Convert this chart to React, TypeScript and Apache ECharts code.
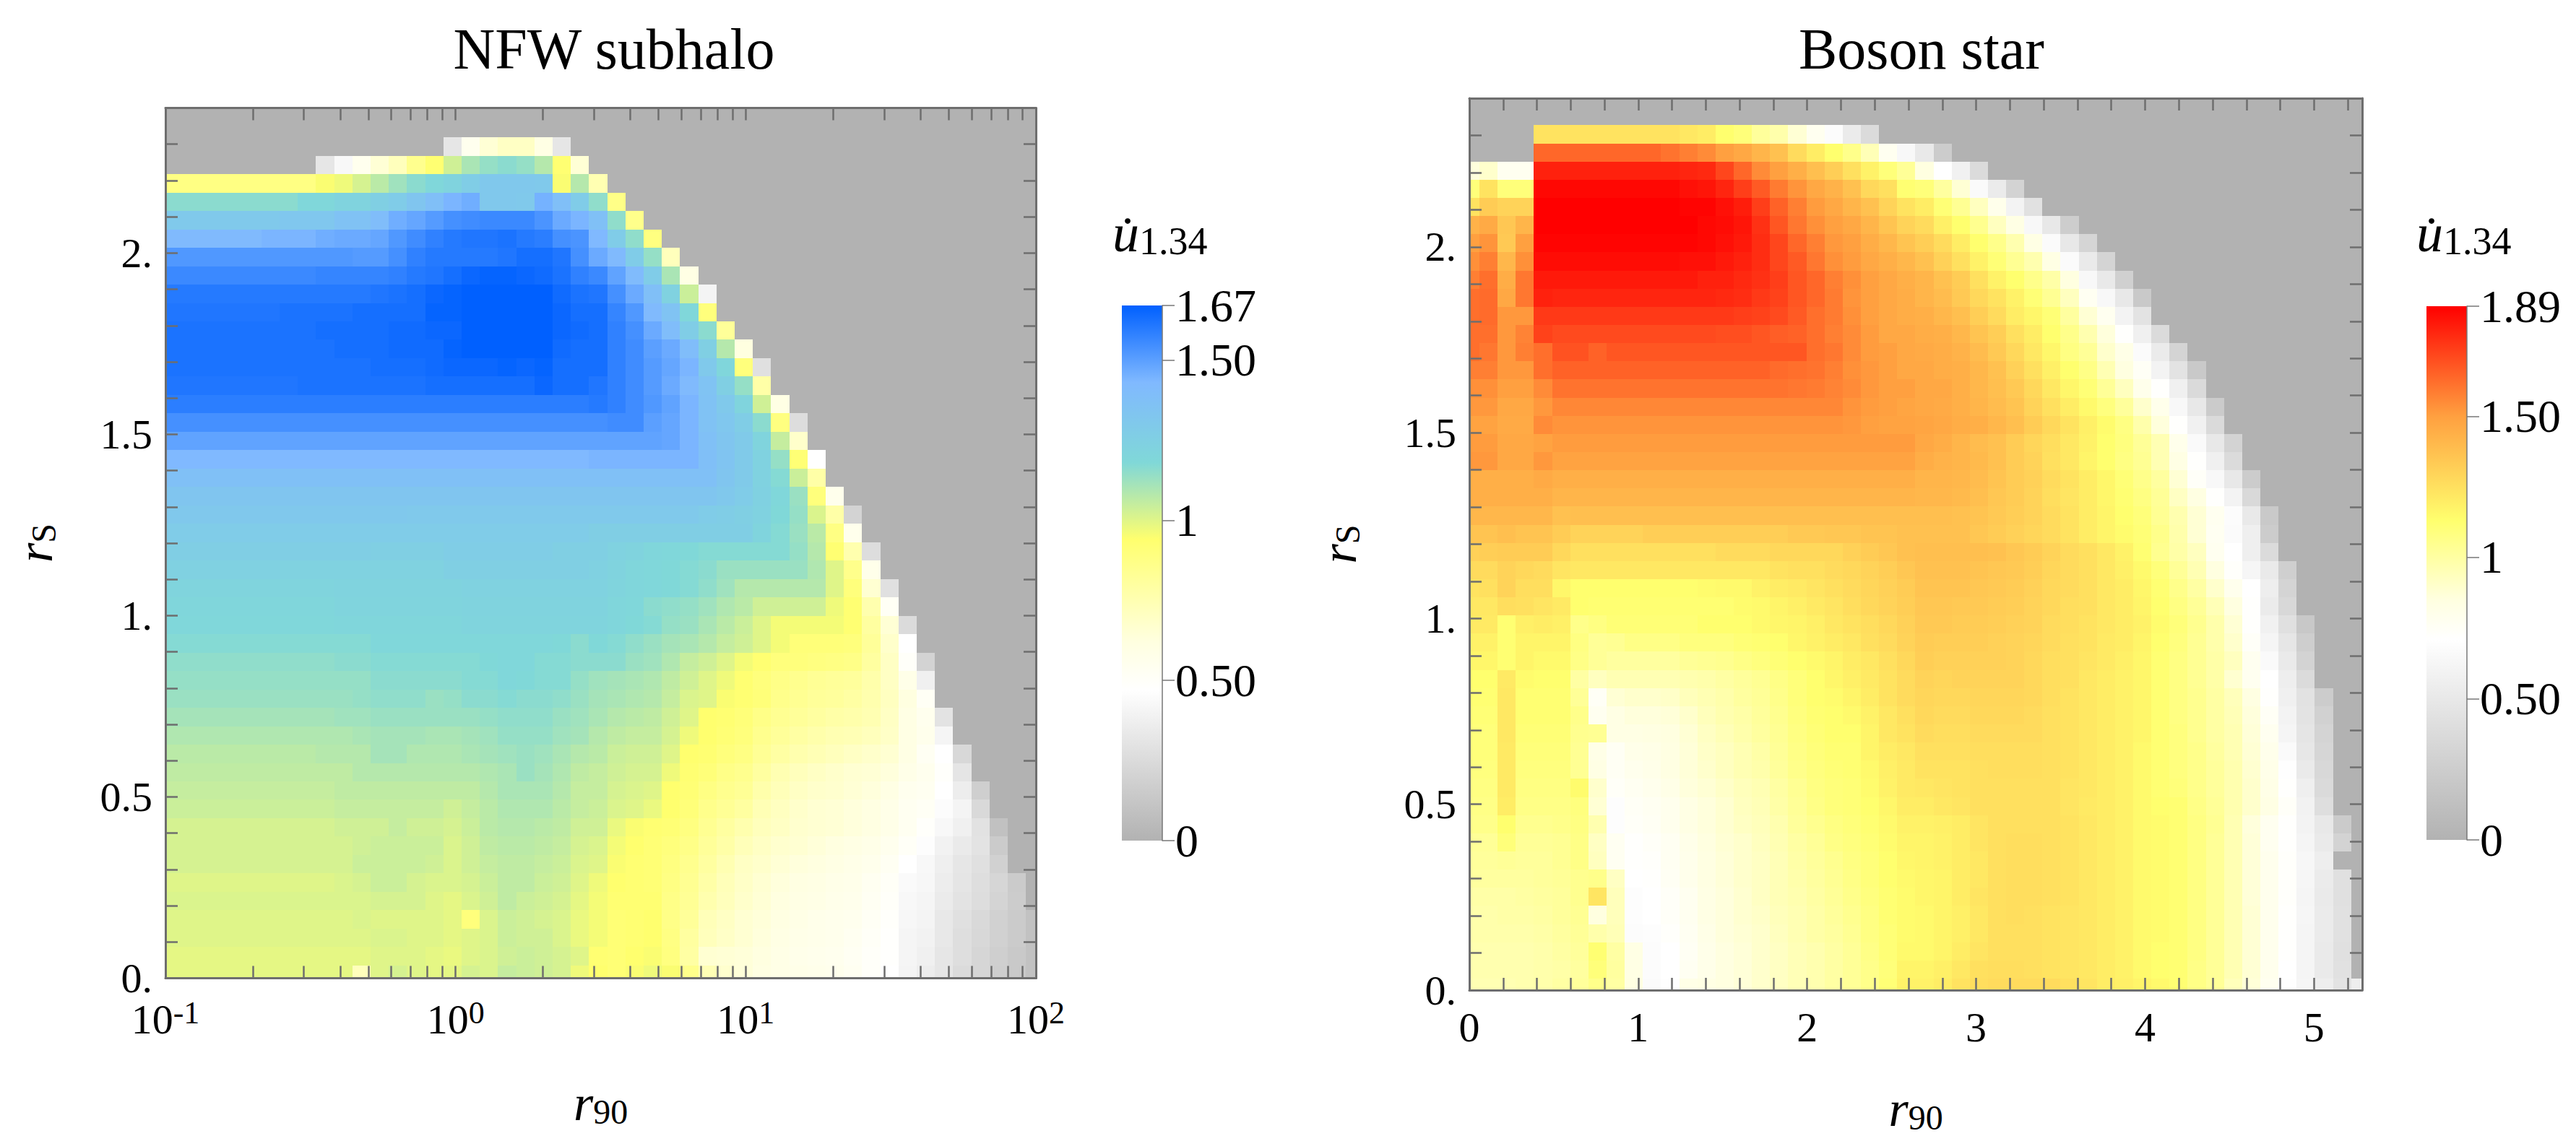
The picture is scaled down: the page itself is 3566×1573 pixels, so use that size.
import React, { useEffect, useRef } from "react";
import * as echarts from "echarts";

const FONT = "'Liberation Serif', serif";
const titles = ["NFW subhalo", "Boson star"];
const nfwXLabels = [0.1, 1, 10, 100];
const nfwXTicks = [0.2,0.3,0.4,0.5,0.6,0.7,0.8,0.9,1,2,3,4,5,6,7,8,9,10,20,30,40,50,60,70,80,90];
const bosonXLabels = [0, 1, 2, 3, 4, 5];
const bosonXTicks = [0.2,0.4,0.6,0.8,1,1.2,1.4,1.6,1.8,2,2.2,2.4,2.6,2.8,3,3.2,3.4,3.6,3.8,4,4.2,4.4,4.6,4.8,5,5.2];
const rsLabels = [0, 0.5, 1, 1.5, 2];
const rsTicks = [0.1,0.2,0.3,0.4,0.5,0.6,0.7,0.8,0.9,1,1.1,1.2,1.3,1.4,1.5,1.6,1.7,1.8,1.9,2,2.1,2.2,2.3];
const nfwBarTicks = [0, 0.5, 1, 1.5, 1.67];
const bosonBarTicks = [0, 0.5, 1, 1.5, 1.89];

const nfwStops: [number, string][] = [[0,"#b2b2b2"],[0.47,"#ffffff"],[0.62,"#ffffe0"],[0.94,"#ffff6e"],[1.18,"#80d8d8"],[1.43,"#80b9ff"],[1.67,"#0060ff"]];
const bosonStops: [number, string][] = [[0,"#b2b2b2"],[0.71,"#ffffff"],[0.85,"#ffffe0"],[1.13,"#ffff6e"],[1.5,"#ffa040"],[1.89,"#ff0000"]];

// Values in hundredths of u, top row first, left column first. 0 = no data.
const nfwValues = [
[0,0,0,0,0,0,0,0,0,0,0,0,0,0,0,32,55,65,70,70,60,32],
[0,0,0,0,0,0,0,0,32,43,55,65,72,85,93,103,110,114,116,114,108,93,65],
[88,88,88,88,88,88,88,88,95,97,102,107,112,116,119,122,127,131,131,131,130,95,108,75],
[116,116,116,116,116,116,116,119,119,122,122,125,128,133,138,144,146,131,131,130,145,138,128,115,87],
[130,130,130,130,130,130,132,132,132,136,136,140,146,148,151,154,155,156,156,156,153,147,144,137,115,86],
[142,142,142,142,142,144,144,144,146,147,147,148,152,155,158,160,161,161,162,160,159,154,153,143,128,115,89],
[152,152,152,152,152,152,152,152,152,152,151,151,154,158,160,160,160,160,161,163,163,161,154,147,142,128,114,72],
[156,156,156,156,156,156,156,156,157,157,157,157,158,160,161,163,165,166,166,165,164,162,158,156,149,141,128,110,60],
[160,160,160,160,160,160,160,160,160,160,160,161,162,163,165,166,167,167,167,167,167,164,162,161,154,147,138,123,104,40],
[161,161,161,161,161,161,162,162,162,162,163,163,163,163,166,166,167,167,167,167,167,165,163,163,157,152,142,135,119,90],
[162,162,162,162,162,162,162,162,163,163,163,163,164,164,165,165,167,167,167,167,167,165,164,163,158,154,147,140,127,116,82],
[162,162,162,162,162,162,162,162,162,163,163,163,164,164,164,166,167,167,167,167,167,164,163,163,158,155,150,147,140,125,108,62],
[162,162,162,162,162,162,162,162,162,162,162,163,163,163,164,165,165,165,166,165,166,163,163,163,158,155,151,148,144,130,120,90,28],
[161,161,161,161,161,161,161,162,162,162,162,162,162,162,163,163,163,163,163,163,165,163,163,161,158,155,151,147,142,135,125,114,78],
[159,159,159,159,159,159,159,159,159,159,159,159,159,159,159,159,159,159,159,159,159,159,159,160,158,155,152,149,144,136,130,121,103,60],
[154,154,154,154,154,154,154,154,154,154,154,154,154,154,154,154,154,154,154,154,154,154,154,154,155,155,150,148,144,136,132,127,116,89,26],
[149,149,149,149,149,149,149,149,149,149,149,149,149,149,149,149,149,149,149,149,149,149,149,149,149,149,149,148,144,137,133,129,121,105,68],
[143,143,143,143,143,143,143,143,143,143,143,143,143,143,143,143,143,143,143,143,143,143,143,144,144,144,144,144,144,138,134,129,123,114,92,47],
[137,137,137,137,137,137,137,137,137,137,137,137,137,137,137,137,137,137,137,137,137,137,137,137,137,137,137,137,137,137,133,129,123,117,104,78],
[133,133,133,133,133,133,133,133,133,133,133,133,133,133,133,133,133,133,133,133,133,133,133,133,133,133,133,133,133,133,131,128,124,119,113,90,56],
[131,131,131,131,131,131,131,131,131,131,131,131,131,130,130,130,130,130,130,130,130,130,130,130,130,130,130,130,130,128,127,125,123,118,114,101,78,20],
[128,128,128,128,128,128,128,128,128,128,128,128,128,128,128,128,128,128,128,128,128,128,128,126,126,126,126,126,126,126,126,126,121,117,113,107,88,56],
[126,126,126,126,126,126,126,126,126,126,126,125,125,125,125,127,127,127,127,127,127,125,125,125,123,122,120,119,118,117,117,117,117,117,114,108,93,76,26],
[124,124,124,124,124,124,123,123,123,123,123,123,123,123,123,125,125,125,125,125,125,125,125,124,122,120,119,118,117,116,113,113,113,113,113,109,100,86,57],
[121,121,121,121,121,121,121,121,121,122,122,122,122,122,122,122,123,123,123,123,123,123,123,123,121,120,119,118,117,115,112,108,108,108,108,108,100,90,66,28],
[120,120,120,120,120,120,120,120,120,121,121,121,121,121,121,121,122,122,122,122,122,122,122,122,120,119,116,115,114,112,109,107,103,103,103,103,97,93,76,52],
[119,119,119,119,119,119,119,119,119,120,120,120,120,120,120,120,121,121,121,121,121,121,121,121,120,118,117,114,113,110,107,104,100,96,96,96,96,93,80,65,25],
[117,117,117,117,117,117,117,117,117,117,117,119,119,119,119,119,119,119,119,119,119,118,116,118,117,115,113,111,110,108,105,103,100,96,91,91,91,90,82,68,47],
[115,115,115,115,115,115,115,115,115,116,116,117,117,117,117,117,117,118,119,119,117,117,116,116,116,113,112,109,105,103,100,96,93,90,90,89,88,87,80,70,50,20],
[114,114,114,114,114,114,114,114,114,114,114,116,116,116,116,116,117,117,119,118,117,117,114,112,111,110,109,106,103,100,97,93,90,87,85,83,82,81,77,70,58,38],
[113,113,113,113,113,113,113,113,113,113,114,115,115,115,113,114,116,116,117,116,116,115,113,111,110,109,108,105,101,100,95,93,91,86,84,82,81,79,76,71,62,52],
[111,111,111,111,111,111,111,111,111,112,112,113,113,113,113,113,113,114,115,115,115,113,112,110,108,107,106,103,100,94,93,91,87,84,82,80,78,77,75,70,60,55,30],
[109,109,109,109,109,109,109,109,109,109,110,111,111,111,110,110,111,112,114,114,114,112,111,108,106,105,105,102,97,94,92,90,85,82,79,77,75,74,72,69,60,56,41],
[107,107,107,107,107,107,107,107,108,108,108,111,111,109,109,109,110,111,112,113,112,110,108,107,104,103,103,100,94,93,90,88,83,79,76,74,72,70,68,66,60,53,47,23],
[106,106,106,106,106,106,106,106,106,106,108,108,108,108,108,108,108,109,110,113,111,109,106,105,103,102,102,97,93,91,87,85,80,75,72,70,68,66,65,63,58,55,49,31],
[105,105,105,105,105,105,105,105,105,106,106,106,106,106,106,106,106,108,110,110,110,108,105,105,102,101,100,94,92,88,85,83,77,73,70,68,67,65,63,60,55,54,47,36,18],
[104,104,104,104,104,104,104,104,104,105,105,105,105,105,105,103,105,107,109,109,109,107,105,104,101,100,98,94,91,86,83,80,74,71,68,66,65,63,61,58,54,52,45,40,24],
[102,102,102,102,102,102,102,102,102,103,103,103,105,103,103,102,104,107,108,108,107,106,103,103,98,95,93,92,89,84,80,76,72,70,67,66,65,63,61,58,54,49,43,38,29,9],
[102,102,102,102,102,102,102,102,102,102,103,104,104,104,104,101,103,106,107,107,106,105,102,101,96,94,92,90,87,82,78,73,70,67,66,64,62,60,58,55,51,46,39,34,30,15],
[102,102,102,102,102,102,102,102,102,102,104,104,104,104,103,101,103,105,106,106,105,104,101,100,95,93,92,89,85,80,75,70,68,65,63,62,60,58,56,53,47,43,37,32,28,19],
[100,100,100,100,100,100,100,100,100,101,102,104,104,102,101,101,102,104,106,106,104,103,100,97,94,93,92,88,84,78,73,69,66,63,61,60,58,57,54,51,44,42,36,31,27,22,15],
[101,101,101,101,101,101,101,101,101,101,101,102,102,102,100,99,101,103,106,104,103,102,99,96,93,93,93,87,83,76,72,68,65,62,60,59,57,56,53,50,43,41,35,30,26,21,16],
[100,100,100,100,100,100,100,100,100,100,101,100,100,100,100,99,90,101,104,103,102,101,98,96,92,93,94,87,82,73,70,66,64,61,59,57,56,55,52,49,42,40,33,28,24,19,15,10],
[100,100,100,100,100,100,100,100,100,100,100,101,101,100,100,99,100,101,104,103,103,101,98,96,92,93,94,88,80,72,69,66,63,60,58,57,56,54,51,48,41,39,33,27,23,19,15,10],
[99,99,99,99,99,99,99,99,99,99,99,100,100,100,99,98,100,101,103,104,103,102,100,93,92,94,95,89,79,66,65,64,62,59,57,56,55,53,50,48,41,38,32,27,22,18,14,10],
[99,99,99,99,99,99,99,99,99,99,72,100,102,100,99,99,102,101,105,104,103,102,97,94,92,95,97,95,86,74,67,64,61,59,58,57,56,54,50,47,40,36,32,25,22,17,14,10],
];

const bosonValues = [
[0,0,0,0,124,124,124,124,124,124,124,124,122,120,113,110,102,98,88,78,68,53,38],
[0,0,0,0,164,164,164,164,164,164,164,161,158,155,150,147,142,137,127,120,113,106,95,78,65,51,24],
[86,90,78,78,181,181,181,181,181,181,181,181,180,179,172,164,155,150,144,138,132,125,118,110,103,85,71,58,38],
[110,124,110,110,187,187,187,187,187,187,187,187,185,184,180,174,167,159,153,147,143,137,128,125,112,110,101,88,66,53,30],
[124,133,130,130,189,189,189,189,189,189,189,189,188,188,185,182,174,165,158,151,147,142,137,130,124,120,111,104,93,80,60,43],
[143,146,135,142,189,189,189,189,189,189,189,189,189,187,186,184,177,168,160,154,150,147,142,136,130,127,119,113,105,93,83,65,50,25],
[150,153,134,150,188,188,188,188,188,188,188,188,188,187,185,183,178,172,164,158,152,150,145,141,136,132,127,120,113,106,97,83,67,50,32],
[154,158,141,154,186,186,186,186,186,186,186,186,185,185,183,181,178,172,167,160,154,151,147,144,141,137,131,125,118,111,104,97,83,67,52,31],
[158,162,145,160,183,183,183,183,183,183,183,183,183,181,181,179,177,174,168,164,158,154,150,147,144,142,137,133,125,118,113,106,99,85,65,51,28],
[162,163,147,160,181,180,180,180,180,180,180,180,180,180,179,178,175,173,168,164,159,153,150,147,145,142,139,134,128,124,118,111,104,93,77,65,50,21],
[162,163,152,152,175,175,175,175,175,175,175,175,175,175,175,174,173,171,167,162,159,154,150,147,145,144,141,138,132,127,120,116,111,101,88,78,60,45],
[162,162,152,157,173,171,171,171,171,171,171,171,171,171,170,170,168,166,165,162,158,155,151,147,147,145,144,141,136,132,125,120,113,106,97,86,72,57,38],
[162,160,152,158,162,169,169,165,168,168,168,168,168,168,168,168,168,168,168,162,160,155,151,150,147,146,145,143,139,134,128,122,116,108,103,90,82,67,53,31],
[158,158,152,152,162,165,165,165,165,165,165,165,165,165,165,165,165,163,162,161,158,154,152,150,147,147,145,144,141,137,131,125,119,113,107,96,85,75,60,45,21],
[154,154,150,150,155,161,161,161,161,161,161,161,161,161,161,161,161,161,160,159,157,155,152,150,150,147,147,144,141,138,134,128,122,116,111,103,93,80,72,57,37],
[152,152,147,147,152,156,156,156,156,156,156,156,156,156,156,156,156,156,156,156,156,153,151,150,148,147,146,144,142,139,136,130,125,120,115,109,102,90,80,65,50,23],
[149,149,146,146,155,153,153,153,153,153,153,153,153,153,153,153,153,153,153,153,153,152,150,149,149,148,147,145,144,141,138,133,128,124,119,114,108,98,86,72,58,37],
[151,151,147,147,149,151,151,151,151,151,151,151,151,151,151,151,151,151,151,151,151,151,151,151,151,147,145,142,139,137,133,129,126,122,118,113,109,103,96,80,66,50,30],
[152,152,147,147,152,149,149,149,149,149,149,149,149,149,149,149,149,149,149,149,149,149,149,149,149,145,143,142,140,137,133,130,125,122,117,113,108,104,96,83,72,57,38],
[144,144,144,144,146,144,144,144,144,144,144,144,144,144,144,144,144,144,144,144,144,144,144,144,144,142,142,141,139,136,133,131,127,124,120,116,111,106,101,88,74,65,50,24],
[144,144,144,144,144,142,142,142,142,142,142,142,142,142,142,142,142,142,142,142,142,142,142,142,142,141,141,140,138,135,133,130,126,123,120,116,112,108,103,92,84,72,60,36],
[141,141,141,141,141,137,138,138,138,138,138,138,138,138,138,138,138,138,138,138,138,138,138,138,138,138,138,137,136,134,132,130,127,124,120,117,113,110,104,97,88,78,68,51,21],
[136,136,138,136,136,133,130,130,130,130,132,132,132,132,132,132,132,132,134,134,135,135,136,136,137,137,137,137,135,133,131,129,127,124,120,117,114,111,106,98,88,77,67,56,24],
[131,132,133,133,133,128,125,125,125,125,125,125,125,125,127,127,127,128,128,128,128,131,133,135,137,138,138,138,138,137,135,133,130,127,125,122,118,112,105,99,93,78,71,56,38],
[127,127,130,128,127,123,122,122,122,122,122,122,122,122,122,122,122,124,125,125,127,128,130,132,135,137,137,137,136,135,134,132,129,127,125,122,119,115,110,103,96,85,73,63,52,27],
[124,125,130,126,126,116,113,113,113,113,113,113,113,114,115,115,118,120,121,123,125,127,129,131,133,136,136,136,135,134,133,131,128,127,125,122,120,116,112,106,100,90,79,71,55,31],
[122,122,126,125,123,121,113,112,112,112,112,112,112,112,112,114,115,117,119,121,123,126,128,130,132,135,135,134,134,133,132,130,128,126,125,122,120,117,113,108,103,95,85,72,53,35],
[121,121,112,119,120,119,106,108,111,111,111,111,111,113,113,113,115,116,117,119,122,124,126,128,131,134,134,133,133,132,131,130,127,126,124,122,120,118,114,110,105,98,88,72,58,42,20],
[118,118,112,117,117,117,108,103,104,107,107,107,109,109,109,111,112,113,116,118,120,122,125,127,130,133,132,132,132,131,130,129,127,125,124,121,120,117,113,109,104,98,90,74,62,48,26],
[116,116,112,117,115,115,107,103,101,101,101,101,103,104,105,107,109,111,113,115,117,120,122,125,128,132,131,131,131,131,130,128,126,125,123,121,119,116,112,108,104,99,93,78,66,52,30],
[113,113,121,114,113,113,100,93,96,96,96,96,97,98,100,102,104,107,110,113,116,119,121,124,127,130,129,130,130,130,130,128,126,125,122,120,118,116,112,108,104,99,89,78,71,55,38],
[112,112,122,112,112,112,103,75,88,90,90,91,94,96,98,101,103,106,110,113,114,117,120,124,127,129,128,128,129,129,129,128,126,124,122,120,118,116,112,108,105,100,94,84,72,57,44,24],
[111,111,122,112,112,112,106,78,83,86,86,87,90,94,97,99,102,105,109,112,113,115,118,122,125,128,127,127,128,128,128,127,125,124,122,120,118,116,112,108,105,100,95,86,75,60,45,29],
[110,110,122,111,111,111,105,104,83,83,84,85,88,92,95,98,101,104,108,111,113,113,117,122,124,127,126,126,127,127,127,127,125,124,122,120,118,116,112,109,105,100,96,87,78,62,47,31],
[110,110,121,110,110,110,104,82,76,81,82,84,87,91,93,96,99,103,107,110,112,112,117,120,122,125,125,125,126,126,126,126,125,124,122,120,118,115,112,109,106,101,96,88,80,66,49,33],
[109,109,121,109,109,109,104,83,76,79,81,84,87,90,93,96,98,102,106,109,111,112,115,119,121,124,124,124,125,126,126,126,125,124,122,120,118,115,112,109,106,102,97,89,81,70,52,35],
[108,108,121,108,108,108,114,90,74,77,79,82,86,88,91,94,96,100,104,108,110,111,114,118,121,122,123,124,125,125,125,125,125,123,122,120,118,115,112,110,106,102,97,90,82,72,56,37],
[107,107,120,107,107,107,109,88,69,75,77,79,83,86,89,93,95,99,103,107,110,111,113,116,120,120,122,123,125,125,125,125,125,123,121,120,118,115,113,112,107,103,97,90,83,74,59,41],
[106,106,113,105,105,106,108,97,69,74,76,79,83,86,89,92,94,97,102,105,108,110,112,115,118,118,119,120,123,125,125,125,125,124,122,120,118,115,114,112,108,104,96,86,78,72,60,50,23],
[103,103,110,103,103,104,107,92,77,72,74,77,81,85,88,90,93,96,100,103,107,109,111,114,117,117,118,120,123,125,126,126,125,124,122,120,118,115,114,112,108,103,96,87,78,72,62,52,30],
[102,102,103,102,102,104,107,93,77,72,73,77,80,84,87,90,92,95,99,102,105,108,110,113,116,117,118,120,122,125,126,126,125,124,122,120,118,115,114,112,108,103,96,87,79,73,64,55],
[101,101,101,101,102,103,105,106,92,71,72,76,80,84,87,90,92,95,98,101,104,107,110,113,115,116,117,120,122,125,126,126,125,124,122,120,118,115,114,112,108,103,96,87,79,73,63,53,42],
[99,99,99,100,101,102,105,123,94,69,71,74,78,83,86,89,92,95,97,100,103,106,109,112,114,116,117,120,123,125,126,126,125,124,122,120,118,115,114,112,108,103,96,87,79,73,62,52,42],
[98,98,99,99,100,102,104,85,94,69,71,74,78,83,86,89,91,94,96,99,102,105,108,112,114,115,117,119,122,125,126,125,124,123,122,120,118,115,114,112,108,103,96,88,79,72,63,53,43],
[98,98,98,98,99,101,103,98,95,68,69,73,77,82,86,88,90,93,96,99,101,104,108,111,114,115,117,119,122,125,125,125,124,123,122,120,118,115,114,112,108,103,96,88,79,72,62,53,43],
[97,97,97,97,98,100,102,112,100,83,68,71,76,81,85,87,90,92,95,97,100,103,107,111,115,115,117,120,123,125,125,125,124,123,122,120,118,115,113,112,108,103,96,88,79,72,62,52,42],
[97,97,97,97,98,99,101,110,101,83,68,71,77,81,85,87,90,92,95,97,100,103,106,110,117,117,119,122,125,126,126,125,124,123,122,120,118,115,113,112,107,103,96,88,79,71,62,52,43],
[96,96,96,97,98,100,102,106,100,84,67,70,82,83,85,87,90,92,95,97,100,103,106,111,118,118,120,124,126,127,127,127,127,125,123,120,119,117,115,112,107,103,94,87,78,70,63,55,45,55],
];

const NFW_W = 1205, NFW_H = 1205, BOS_W = 1236, BOS_H = 1235;
const NFW_YMAX = 2.4, BOS_YMAX = 2.4, BOS_XMAX = 5.285;

function hex(c: string) { return [1, 3, 5].map((i) => parseInt(c.slice(i, i + 2), 16)); }
function colorAt(v: number, stops: [number, string][]) {
  for (let i = 1; i < stops.length; i++) {
    if (v <= stops[i][0]) {
      const t = (v - stops[i - 1][0]) / (stops[i][0] - stops[i - 1][0]);
      const a = hex(stops[i - 1][1]), b = hex(stops[i][1]);
      return `rgb(${a.map((x, k) => Math.round(x + (b[k] - x) * t)).join(",")})`;
    }
  }
  return stops[stops.length - 1][1];
}

function nfwColEdge(k: number) {
  if (k <= 0) return 0.1;
  if (k >= 48) return 100;
  return Math.pow(10, -1 + (32 + 25.2 * (k - 1)) / (NFW_W / 3));
}
function nfwRowEdge(k: number) { return k <= 0 ? 0 : (17.7 + 25.48 * (k - 1)) / (NFW_H / NFW_YMAX); }
function bosColEdge(k: number) {
  if (k <= 0) return 0;
  if (k >= 50) return BOS_XMAX;
  return (14 + 25.14 * (k - 1)) / (BOS_W / BOS_XMAX);
}
function bosRowEdge(k: number) { return k <= 0 ? 0 : (16 + 25.14 * (k - 1)) / (BOS_H / BOS_YMAX); }

function cells(rows: number[][], colEdge: (k: number) => number, rowEdge: (k: number) => number) {
  const out: number[][] = [];
  rows.forEach((row, r) => {
    const k = rows.length - 1 - r;
    row.forEach((v, c) => {
      if (v > 0) out.push([colEdge(c), colEdge(c + 1), rowEdge(k), rowEdge(k + 1), v / 100]);
    });
  });
  return out;
}

const renderCell = (stops: [number, string][]) => (_: any, api: any) => {
  const a = api.coord([api.value(0), api.value(2)]);
  const b = api.coord([api.value(1), api.value(3)]);
  const x0 = Math.round(a[0]), x1 = Math.round(b[0]), y0 = Math.round(b[1]), y1 = Math.round(a[1]);
  return { type: "rect", shape: { x: x0, y: y0, width: x1 - x0, height: y1 - y0 }, style: { fill: colorAt(api.value(4), stops) } };
};

const renderBar = (stops: [number, string][], max: number) => (_: any, api: any) => {
  const a = api.coord([0, 0]);
  const b = api.coord([1, max]);
  return {
    type: "rect",
    shape: { x: a[0], y: b[1], width: b[0] - a[0], height: a[1] - b[1] },
    style: {
      fill: new echarts.graphic.LinearGradient(0, 1, 0, 0, stops.map(([v, c]) => ({ offset: v / max, color: c }))),
    },
  };
};

const LINE = "#6e6e6e";
const frame = { show: true, onZero: false, lineStyle: { color: LINE, width: 3 } };
const ticks = (customValues: number[]) => ({ show: true, inside: true, length: 17, customValues, lineStyle: { color: LINE, width: 2.5 } });
const noLabel = { show: false };
const rich = {
  b: { fontFamily: FONT, fontSize: 58, color: "#000" },
  s: { fontFamily: FONT, fontSize: 44, color: "#000", verticalAlign: "top", padding: [0, 0, 18, 0] },
};
const nameRich = {
  i: { fontFamily: FONT, fontSize: 70, fontStyle: "italic", color: "#000" },
  s: { fontFamily: FONT, fontSize: 48, color: "#000", padding: [24, 0, 0, 0] },
};
const plainLabel = { show: true, fontFamily: FONT, fontSize: 58, color: "#000" };
const rsAxis = (gridIndex: number, max: number, nameGap: number) => ({
  type: "value", gridIndex, min: 0, max, position: "left", z: 5, splitLine: { show: false }, axisLine: frame,
  axisTick: ticks(rsTicks),
  axisLabel: { ...plainLabel, margin: 18, customValues: rsLabels, formatter: (v: number) => (Number.isInteger(v) ? `${v}.` : `${v}`) },
  name: "{i|r}{s|S}", nameLocation: "middle", nameRotate: 90, nameGap, nameTextStyle: { rich: nameRich },
});
const rsMirror = (gridIndex: number, max: number) => ({
  type: "value", gridIndex, min: 0, max, position: "right", z: 5, splitLine: { show: false }, axisLine: frame, axisTick: ticks(rsTicks), axisLabel: noLabel,
});
const barY = (gridIndex: number, max: number, vals: number[]) => ({
  type: "value", gridIndex, min: 0, max, position: "right", z: 5, splitLine: { show: false },
  axisLine: { show: true, onZero: false, lineStyle: { color: "#777", width: 1.5 } },
  axisTick: { show: true, inside: false, length: 17, customValues: vals, lineStyle: { color: "#777", width: 1.5 } },
  axisLabel: { ...plainLabel, fontSize: 64, margin: 18, customValues: vals, formatter: (v: number) => (v === 0 ? "0" : v === 1 ? "1" : v.toFixed(2)) },
});
const barX = (gridIndex: number) => ({ type: "value", gridIndex, min: 0, max: 1, show: false });

const legendTitle = (x: number, y: number) => ({
  type: "text", x, y,
  style: {
    text: "{i|u\u0307}{s|1.34}",
    rich: {
      i: { fontFamily: FONT, fontSize: 74, fontStyle: "italic", fill: "#000" },
      s: { fontFamily: FONT, fontSize: 54, fill: "#000", padding: [22, 0, 0, 0] },
    },
  },
});
const title = (text: string, x: number, y: number) => ({
  type: "text", x, y,
  style: { text, fontFamily: FONT, fontSize: 80, fill: "#000", textAlign: "center", textVerticalAlign: "middle" },
});

export default function App() {
  const ref = useRef<HTMLDivElement>(null);
  useEffect(() => {
    const chart = echarts.init(ref.current!, undefined, { renderer: "svg" });
    const gridBase = { show: true, backgroundColor: "#b2b2b2", borderWidth: 0, outerBoundsMode: "none", containLabel: false };
    const barGrid = { outerBoundsMode: "none", containLabel: false };
    chart.setOption({
      animation: false,
      backgroundColor: "#ffffff",
      grid: [
        { ...gridBase, left: 229, top: 149.5, width: NFW_W, height: NFW_H },
        { ...gridBase, left: 2034, top: 136, width: BOS_W, height: BOS_H },
        { ...barGrid, left: 1553, top: 423, width: 56, height: 741 },
        { ...barGrid, left: 3359, top: 424, width: 56, height: 739 },
      ],
      xAxis: [
        {
          type: "log", logBase: 10, gridIndex: 0, min: 0.1, max: 100, position: "bottom", z: 5, splitLine: { show: false }, axisLine: frame,
          axisTick: ticks(nfwXTicks),
          axisLabel: {
            show: true, margin: 26, customValues: nfwXLabels, rich,
            formatter: (v: number) => `{b|10}{s|${Math.round(Math.log10(v))}}`,
          },
          name: "{i|r}{s|90}", nameLocation: "middle", nameGap: 137, nameTextStyle: { rich: nameRich },
        },
        {
          type: "log", logBase: 10, gridIndex: 0, min: 0.1, max: 100, position: "top", z: 5, splitLine: { show: false }, axisLine: frame,
          axisTick: ticks(nfwXTicks), axisLabel: noLabel,
        },
        {
          type: "value", gridIndex: 1, min: 0, max: BOS_XMAX, position: "bottom", z: 5, splitLine: { show: false }, axisLine: frame,
          axisTick: ticks(bosonXTicks),
          axisLabel: { ...plainLabel, margin: 22, customValues: bosonXLabels },
          name: "{i|r}{s|90}", nameLocation: "middle", nameGap: 128, nameTextStyle: { rich: nameRich },
        },
        {
          type: "value", gridIndex: 1, min: 0, max: BOS_XMAX, position: "top", z: 5, splitLine: { show: false }, axisLine: frame,
          axisTick: ticks(bosonXTicks), axisLabel: noLabel,
        },
        barX(2),
        barX(3),
      ],
      yAxis: [
        rsAxis(0, NFW_YMAX, 145),
        rsMirror(0, NFW_YMAX),
        rsAxis(1, BOS_YMAX, 145),
        rsMirror(1, BOS_YMAX),
        barY(2, 1.67, nfwBarTicks),
        barY(3, 1.89, bosonBarTicks),
      ],
      series: [
        {
          type: "custom", xAxisIndex: 0, yAxisIndex: 0, z: 2, silent: true, progressive: 0, clip: true,
          encode: { x: [0, 1], y: [2, 3] }, renderItem: renderCell(nfwStops), data: cells(nfwValues, nfwColEdge, nfwRowEdge),
        },
        {
          type: "custom", xAxisIndex: 2, yAxisIndex: 2, z: 2, silent: true, progressive: 0, clip: true,
          encode: { x: [0, 1], y: [2, 3] }, renderItem: renderCell(bosonStops), data: cells(bosonValues, bosColEdge, bosRowEdge),
        },
        { type: "custom", xAxisIndex: 4, yAxisIndex: 4, z: 2, silent: true, encode: { x: 0, y: 1 }, renderItem: renderBar(nfwStops, 1.67), data: [[0, 0]] },
        { type: "custom", xAxisIndex: 5, yAxisIndex: 5, z: 2, silent: true, encode: { x: 0, y: 1 }, renderItem: renderBar(bosonStops, 1.89), data: [[0, 0]] },
      ],
      graphic: [
        title(titles[0], 850, 68),
        title(titles[1], 2660, 68),
        legendTitle(1540, 285),
        legendTitle(3345, 285),
      ],
    });
    return () => chart.dispose();
  }, []);
  return <div ref={ref} style={{ position: "absolute", left: 0, top: 0, width: 3566, height: 1573 }} />;
}
